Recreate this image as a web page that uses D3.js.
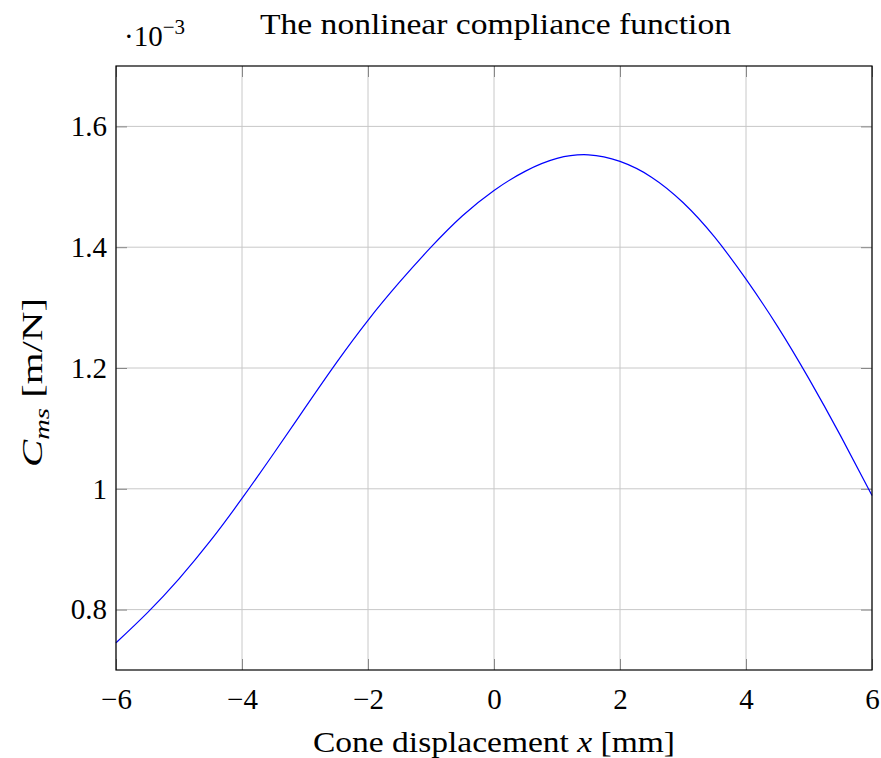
<!DOCTYPE html>
<html>
<head>
<meta charset="utf-8">
<script src="https://cdn.jsdelivr.net/npm/d3@7"></script>
<style>
  body { margin: 0; background: #fff; }
  text { font-family: "Liberation Serif", "DejaVu Serif", serif; fill: #000; }
</style>
</head>
<body>
<div id="chart"></div>
<script>
// displacement in mm, compliance in 1e-3 m/N
const displacement = [-6, -5.5, -5, -4.5, -4, -3.5, -3, -2.5, -2, -1.5, -1, -0.5, 0,
  0.5, 1, 1.5, 2, 2.5, 3, 3.5, 4, 4.5, 5, 5.5, 6];
const compliance = [0.745, 0.795, 0.851, 0.914, 0.984, 1.058, 1.134, 1.209, 1.279, 1.342, 1.400, 1.452, 1.494,
  1.526, 1.547, 1.553, 1.542, 1.516, 1.474, 1.417, 1.347, 1.269, 1.182, 1.088, 0.989];
const xTicks = [-6, -4, -2, 0, 2, 4, 6];
const yTicks = [0.8, 1, 1.2, 1.4, 1.6];

const W = 881, H = 758;
const margin = {top: 66, right: 9, bottom: 88, left: 116};
const width = W - margin.left - margin.right;
const height = H - margin.top - margin.bottom;

const svg = d3.select("#chart").append("svg")
  .attr("width", W)
  .attr("height", H);

const g = svg.append("g")
  .attr("transform", `translate(${margin.left},${margin.top})`);

const x = d3.scaleLinear().domain([-6, 6]).range([0, width]);
const y = d3.scaleLinear().domain([0.7, 1.7]).range([height, 0]);

const fmt = d => d < 0 ? "\u2212" + Math.abs(d) : String(d);

// grid
g.append("g").selectAll("line")
  .data(xTicks)
  .enter().append("line")
  .attr("x1", d => x(d)).attr("x2", d => x(d))
  .attr("y1", 0).attr("y2", height)
  .style("stroke", "#c8c8c8").style("stroke-width", 1);

g.append("g").selectAll("line")
  .data(yTicks)
  .enter().append("line")
  .attr("x1", 0).attr("x2", width)
  .attr("y1", d => y(d)).attr("y2", d => y(d))
  .style("stroke", "#c8c8c8").style("stroke-width", 1);

// inner tick marks on all four sides
const tickLen = 11;
const addAxis = (axis, transform) => {
  const a = g.append("g").attr("transform", transform).call(axis);
  a.select(".domain").remove();
  a.selectAll(".tick line").style("stroke", "#888").style("stroke-width", 1);
  return a;
};

const xb = addAxis(d3.axisBottom(x).tickValues(xTicks).tickSize(-tickLen).tickPadding(18).tickFormat(fmt),
  `translate(0,${height})`);
xb.selectAll("text").style("font-size", "29px").style("font-family", "Liberation Serif, serif");
addAxis(d3.axisTop(x).tickValues(xTicks).tickSize(-tickLen).tickFormat(""), "translate(0,0)");

const yl = addAxis(d3.axisLeft(y).tickValues(yTicks).tickSize(-tickLen).tickPadding(9).tickFormat(fmt),
  "translate(0,0)");
yl.selectAll("text").style("font-size", "29px").style("font-family", "Liberation Serif, serif");
addAxis(d3.axisRight(y).tickValues(yTicks).tickSize(-tickLen).tickFormat(""), `translate(${width},0)`);

// curve
const line = d3.line()
  .x((d, i) => x(displacement[i]))
  .y(d => y(d))
  .curve(d3.curveNatural);

g.append("path")
  .datum(compliance)
  .attr("d", line)
  .style("fill", "none")
  .style("stroke", "#0000ff")
  .style("stroke-width", 1.2);

// frame
g.append("rect")
  .attr("width", width).attr("height", height)
  .style("fill", "none").style("stroke", "#000").style("stroke-width", 1.2);

// title
svg.append("text")
  .attr("x", 260).attr("y", 34)
  .attr("textLength", 471).attr("lengthAdjust", "spacingAndGlyphs")
  .style("font-size", "30px")
  .text("The nonlinear compliance function");

// scale label
const sc = svg.append("text")
  .attr("x", 124).attr("y", 46)
  .style("font-size", "29px");
sc.append("tspan").text("\u00b710");
sc.append("tspan").attr("dy", -12).style("font-size", "21px").text("\u22123");

// x label
const xl = svg.append("text")
  .attr("x", 313).attr("y", 752)
  .attr("textLength", 362).attr("lengthAdjust", "spacingAndGlyphs")
  .style("font-size", "30px");
xl.append("tspan").text("Cone displacement ");
xl.append("tspan").style("font-style", "italic").text("x");
xl.append("tspan").text(" [mm]");

// y label
const ylab = svg.append("text")
  .attr("transform", "translate(42,467) rotate(-90)")
  .attr("textLength", 169).attr("lengthAdjust", "spacingAndGlyphs")
  .style("font-size", "30px");
ylab.append("tspan").style("font-style", "italic").text("C");
ylab.append("tspan").attr("dy", 7).style("font-style", "italic").style("font-size", "21px").text("ms");
ylab.append("tspan").attr("dy", -7).text(" [m/N]");
</script>
</body>
</html>
